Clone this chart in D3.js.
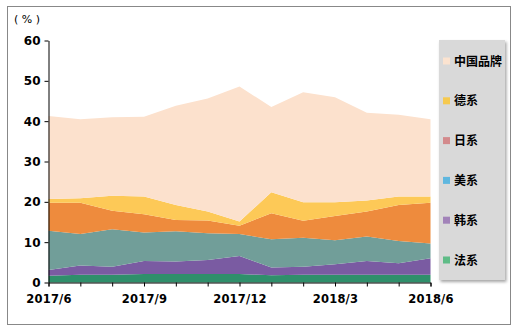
<!DOCTYPE html>
<html><head><meta charset="utf-8">
<script src="https://cdn.jsdelivr.net/npm/d3@7"></script>
<style>body{margin:0;background:#fff;}svg{display:block;font-family:"Liberation Sans",Arial,sans-serif;}</style>
</head><body>
<svg id="c" width="519" height="335"></svg>
<script>
const months = ["2017/6","2017/7","2017/8","2017/9","2017/10","2017/11","2017/12","2018/1","2018/2","2018/3","2018/4","2018/5","2018/6"];
const tickLabels = ["2017/6","2017/9","2017/12","2018/3","2018/6"];
const yTicks = [0,10,20,30,40,50,60];
const seriesNames = ["法系","韩系","美系","日系","德系","中国品牌"];
// individual shares (%)
const fr = [1.7,1.9,1.9,2.1,2.1,2.1,2.1,1.8,1.9,1.9,1.9,1.9,1.9];
const kr = [1.4,2.3,2.0,3.2,3.1,3.5,4.5,1.9,2.0,2.6,3.4,2.9,4.1];
const us = [9.7,7.8,9.3,7.1,7.5,6.6,5.4,7.0,7.2,6.0,6.1,5.5,3.7];
const jp = [7.0,7.8,4.6,4.5,2.8,3.2,2.1,6.5,4.2,6.0,6.2,8.9,10.1];
const de = [0.9,1.1,3.7,4.4,3.7,2.2,1.0,5.2,4.6,3.4,2.7,2.1,1.5];
const cn = [20.6,19.6,19.5,19.8,24.6,28.0,33.5,21.1,27.3,26.0,21.8,20.3,19.2];
const areaColors = ["#2f8f6b","#7a5ba2","#719e99","#ee8b3d","#fdc957","#fce1cd"];
const legendColors = ["#5fbc87","#a283b9","#5fb7df","#d38a8c","#f6c94e","#fbe3d0"];

const svg = d3.select("#c");
// outer frame
svg.append("rect").attr("x",7.5).attr("y",6.5).attr("width",503).attr("height",318)
  .attr("fill","#fff").attr("stroke","#888").attr("stroke-width",1);

const x = d3.scalePoint().domain(months).range([48.5,430.5]);
const y = d3.scaleLinear().domain([0,60]).range([282.5,40.5]);

const data = months.map((m,i)=>({m, "法系":fr[i],"韩系":kr[i],"美系":us[i],"日系":jp[i],"德系":de[i],"中国品牌":cn[i]}));
const stack = d3.stack().keys(seriesNames)(data);
const area = d3.area().x(d=>x(d.data.m)).y0(d=>y(d[0])).y1(d=>y(d[1]));
svg.append("g").selectAll("path").data(stack).join("path")
  .attr("d",area).attr("fill",(d,i)=>areaColors[i]);

// axes
const xAxis = d3.axisBottom(x).tickSize(4).tickFormat(d=>tickLabels.includes(d)?d:"");
const gx = svg.append("g").attr("transform","translate(0,282.5)").call(xAxis);
gx.select(".domain").attr("stroke","#000");
gx.selectAll(".tick line").attr("stroke","#000");
gx.selectAll("text").attr("font-size",11.5).attr("font-weight","bold").attr("fill","#000").attr("dy","1.2em")
  .attr("font-family","'DejaVu Sans',sans-serif").style("letter-spacing","0.2px");

const yAxis = d3.axisLeft(y).tickValues(yTicks).tickSize(4).tickSizeOuter(0);
const gy = svg.append("g").attr("transform","translate(48.5,0)").call(yAxis);
gy.select(".domain").attr("stroke","#000");
gy.selectAll(".tick line").attr("stroke","#000");
gy.selectAll("text").attr("font-size",12).attr("font-weight","bold").attr("fill","#000").attr("x",-8)
  .attr("font-family","'DejaVu Sans',sans-serif");

svg.append("text").attr("x",14).attr("y",23).attr("font-size",11).attr("fill","#000")
  .attr("font-family","'DejaVu Sans',sans-serif").text("( % )");

// legend
const defs = svg.append("defs");
const f = defs.append("filter").attr("id","sh").attr("x","-10%").attr("y","-10%").attr("width","130%").attr("height","130%");
f.append("feDropShadow").attr("dx",1.5).attr("dy",2).attr("stdDeviation",1.5).attr("flood-color","#000").attr("flood-opacity",0.35);
svg.append("rect").attr("x",439).attr("y",40).attr("width",66).attr("height",240).attr("fill","#d9d9d9").attr("filter","url(#sh)");
const legendOrder = seriesNames.slice().reverse();
const lg = svg.append("g").selectAll("g").data(legendOrder).join("g")
  .attr("transform",(d,i)=>`translate(443,${61+i*39.8})`);
lg.append("rect").attr("x",0).attr("y",-3.5).attr("width",7).attr("height",7)
  .attr("fill",d=>legendColors[seriesNames.indexOf(d)]);
lg.append("text").attr("x",11).attr("y",4.5).attr("font-size",12).attr("font-weight","bold")
  .attr("font-family","'Noto Sans CJK SC',sans-serif").attr("fill","#000").text(d=>d);
</script>
</body></html>
